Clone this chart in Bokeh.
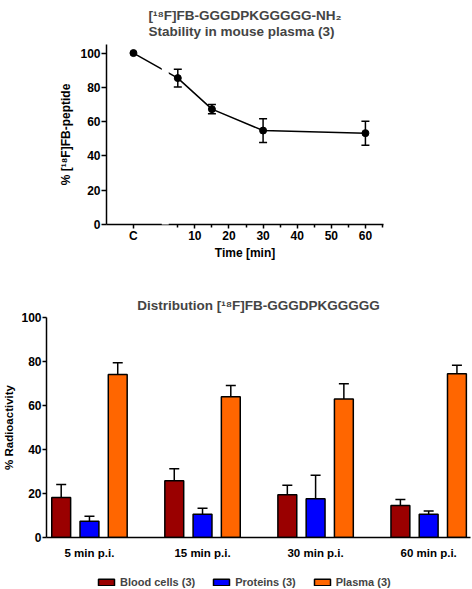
from bokeh.plotting import figure
from bokeh.models import (Range1d, FixedTicker, Whisker, TeeHead, BoxAnnotation,
                          Legend, LegendItem, ColumnDataSource)
from bokeh.embed import file_html
from bokeh.resources import INLINE

FONT = "Liberation Sans"

# ---------------- data: stability ----------------
stab_label = ["C", "5", "15", "30", "60"]
stab_time = [-8, 5, 15, 30, 60]          # "C" (control) sits on the left, broken part of the axis
stab_mean = [100.0, 85.4, 67.3, 54.8, 53.3]
stab_err = [0.0, 5.2, 2.7, 6.9, 7.0]
time_ticks = [10, 20, 30, 40, 50, 60]
time_minor = [5, 15, 25, 35, 45, 55, 65]
y_ticks = [0, 20, 40, 60, 80, 100]
BREAK_START, BREAK_END = 0.3, 2.35

# ---------------- data: distribution ----------------
groups = ["5 min p.i.", "15 min p.i.", "30 min p.i.", "60 min p.i."]
blood = [18.2, 25.8, 19.4, 14.5]
blood_err = [5.9, 5.4, 4.4, 2.8]
proteins = [7.4, 10.6, 17.6, 10.6]
proteins_err = [2.3, 2.7, 10.7, 1.5]
plasma = [74.1, 64.0, 63.0, 74.4]
plasma_err = [5.3, 5.1, 6.9, 3.9]
series_names = ["Blood cells (3)", "Proteins (3)", "Plasma (3)"]
series_colors = ["#9a0000", "#0000ff", "#ff6600"]


def style_axis(ax, size="12px", label_size="12px"):
    ax.axis_line_width = 1.5
    ax.axis_line_color = "black"
    ax.major_tick_line_width = 1.5
    ax.minor_tick_line_width = 1.5
    ax.major_label_text_font = FONT
    ax.major_label_text_font_style = "bold"
    ax.major_label_text_font_size = size
    ax.major_label_text_color = "black"
    ax.axis_label_text_font = FONT
    ax.axis_label_text_font_style = "bold"
    ax.axis_label_text_font_size = label_size
    ax.axis_label_text_color = "black"


# ================= top chart =================
p1 = figure(width=472, height=262, output_backend="svg", toolbar_location=None,
            x_range=Range1d(-15.9, 65.3), y_range=Range1d(0, 105),
            min_border_left=106, min_border_right=89, min_border_top=43, min_border_bottom=35,
            title="[¹⁸F]FB-GGGDPKGGGGG-NH₂\nStability in mouse plasma (3)")
p1.outline_line_color = None
p1.grid.visible = False
p1.title.align = "center"
p1.title.text_font = FONT
p1.title.text_font_style = "bold"
p1.title.text_font_size = "13.5px"
p1.title.text_line_height = 1.05
p1.title.standoff = 11

xa = p1.xaxis[0]
xa.ticker = FixedTicker(ticks=[stab_time[0]] + time_ticks, minor_ticks=time_minor)
xa.major_label_overrides = {stab_time[0]: stab_label[0]}
style_axis(xa)
xa.major_tick_out = 4
xa.major_tick_in = 0
xa.minor_tick_out = 3
xa.minor_tick_in = 0
xa.major_label_standoff = 0
xa.axis_label = "Time [min]"
xa.axis_label_standoff = 0

ya = p1.yaxis[0]
ya.ticker = FixedTicker(ticks=y_ticks, minor_ticks=[])
style_axis(ya)
ya.major_tick_out = 5
ya.major_tick_in = 0
ya.major_label_standoff = 1
ya.axis_label = "% [¹⁸F]FB-peptide"
ya.axis_label_standoff = 4

src1 = ColumnDataSource(dict(x=stab_time, y=stab_mean))
p1.line("x", "y", source=src1, line_color="black", line_width=1.5)
p1.scatter("x", "y", source=src1, size=7, color="black")

idx = [i for i, e in enumerate(stab_err) if e > 0]
werr = ColumnDataSource(dict(
    x=[stab_time[i] for i in idx],
    lo=[stab_mean[i] - stab_err[i] for i in idx],
    hi=[stab_mean[i] + stab_err[i] for i in idx]))
p1.add_layout(Whisker(base="x", lower="lo", upper="hi", source=werr, line_width=1.5,
                      line_color="black",
                      upper_head=TeeHead(size=8, line_width=1.5, line_color="black"),
                      lower_head=TeeHead(size=8, line_width=1.5, line_color="black")))

# axis break
p1.add_layout(BoxAnnotation(left=BREAK_START, right=BREAK_END, bottom=-3, fill_color="white",
                            fill_alpha=1.0, line_color=None, level="overlay"))

# ================= bottom chart =================
p2 = figure(width=472, height=303, output_backend="svg", toolbar_location=None,
            x_range=Range1d(-0.38, 3.37), y_range=Range1d(0, 100),
            min_border_left=42, min_border_right=2, min_border_top=55, min_border_bottom=28,
            title="Distribution [¹⁸F]FB-GGGDPKGGGGG")
p2.outline_line_color = None
p2.grid.visible = False
p2.title.align = "center"
p2.title.text_font = FONT
p2.title.text_font_style = "bold"
p2.title.text_font_size = "13.5px"
p2.title.standoff = 9

xb = p2.xaxis[0]
xb.ticker = FixedTicker(ticks=list(range(len(groups))), minor_ticks=[])
xb.major_label_overrides = {i: g for i, g in enumerate(groups)}
style_axis(xb, size="11.5px")
xb.major_tick_out = 0
xb.major_tick_in = 0
xb.major_label_standoff = 9

yb = p2.yaxis[0]
yb.ticker = FixedTicker(ticks=y_ticks, minor_ticks=[])
style_axis(yb, size="12px", label_size="11.5px")
yb.major_tick_out = 4
yb.major_tick_in = 0
yb.major_label_standoff = 1
yb.axis_label = "% Radioactivity"
yb.axis_label_standoff = 3

offsets = [-0.25, 0.0, 0.25]
BAR_W = 0.167

# legend strip
p3 = figure(width=472, height=24, output_backend="svg", toolbar_location=None,
            x_range=Range1d(0, 1), y_range=Range1d(0, 1),
            min_border=0, min_border_left=0, min_border_right=0,
            min_border_top=0, min_border_bottom=0)
p3.axis.visible = False
p3.grid.visible = False
p3.outline_line_color = None

nan = float("nan")
items = []
for vals, errs, name, col, off in zip([blood, proteins, plasma],
                                      [blood_err, proteins_err, plasma_err],
                                      series_names, series_colors, offsets):
    xs = [i + off for i in range(len(groups))]
    src = ColumnDataSource(dict(x=xs, top=vals,
                                hi=[v + e for v, e in zip(vals, errs)]))
    p2.vbar(x="x", top="top", width=BAR_W, source=src, fill_color=col,
            line_color="black", line_width=1.5)
    p2.add_layout(Whisker(base="x", lower="top", upper="hi", source=src, line_width=1.5,
                          line_color="black",
                          upper_head=TeeHead(size=10, line_width=1.5, line_color="black"),
                          lower_head=None))
    # legend proxy (no visible mark)
    proxy = p3.vbar(x=[nan], top=[nan], width=0.1, fill_color=col, line_color="black",
                    line_width=1.5)
    items.append(LegendItem(label=name, renderers=[proxy]))

legend = Legend(items=items, orientation="horizontal", location=(96, 1),
                glyph_width=20, glyph_height=8, label_standoff=4, spacing=16,
                padding=0, margin=0, border_line_color=None, background_fill_alpha=0,
                label_text_font=FONT, label_text_font_style="bold",
                label_text_font_size="11px")
p3.add_layout(legend)

open("out.html", "w").write(file_html([p1, p2, p3], INLINE))
